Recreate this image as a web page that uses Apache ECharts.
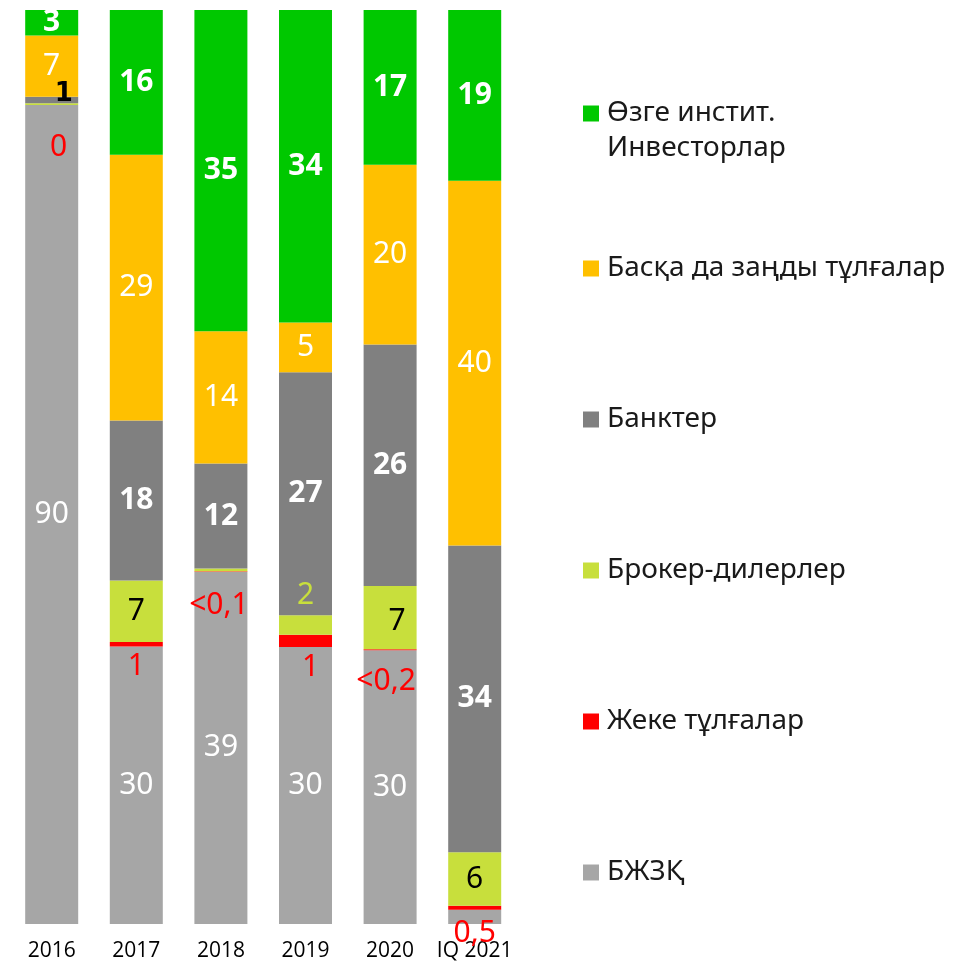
<!DOCTYPE html>
<html>
<head>
<meta charset="utf-8">
<script src="https://cdn.jsdelivr.net/npm/echarts@6/dist/echarts.min.js"></script>
<style>
html,body{margin:0;padding:0;background:#fff;}
#chart{width:967px;height:962px;}
</style>
</head>
<body>
<div id="chart"></div>
<script>
// ---- data ----
const categories = ['2016', '2017', '2018', '2019', '2020', 'IQ 2021'];

const seriesNames = ['БЖЗҚ', 'Жеке тұлғалар', 'Брокер-дилерлер', 'Банктер', 'Басқа да заңды тұлғалар', 'Өзге инстит. Инвесторлар'];

const pensionFund = [89.6, 30.35, 38.55, 30.3, 29.95, 1.56];
const individuals = [0, 0.5, 0.05, 1.36, 0.12, 0.44];
const brokers = [0.2, 6.74, 0.3, 2.11, 6.92, 5.84];
const banks = [0.7, 17.5, 11.48, 26.6, 26.4, 33.58];
const otherLegal = [6.7, 29.07, 14.46, 5.43, 19.67, 39.89];
const otherInst = [2.8, 15.85, 35.16, 34.2, 16.94, 18.69];

const pensionFundLabels = ['90', '30', '39', '30', '30', ''];
const individualsLabels = ['0', '1', '<0,1', '1', '<0,2', '0,5'];
const brokersLabels = ['', '7', '', '2', '7', '6'];
const banksLabels = ['1', '18', '12', '27', '26', '34'];
const otherLegalLabels = ['7', '29', '14', '5', '20', '40'];
const otherInstLabels = ['3', '16', '35', '34', '17', '19'];

// ---- styles ----
const FONT = '"Noto Sans", sans-serif';
const AXIS_FONT = '"Open Sans", "Noto Sans", sans-serif';
const colors = ['#A6A6A6', '#FF0000', '#C8DF3C', '#808080', '#FFC000', '#00C800'];

const baseLabel = { show: true, position: 'inside', fontFamily: FONT, fontSize: 30, color: '#fff' };

// per-point label style tweaks (positions of small segment labels)
const labelTweaks = {
  1: { // individuals
    0: { offset: [7, 22] },
    1: { offset: [0, 0] },
    2: { offset: [-2, 14] },
    3: { offset: [5, 0] },
    4: { offset: [-4, 11] },
    5: { offset: [0, 4] }
  },
  2: { // brokers
    3: { position: 'top', distance: 5, color: '#C8DF3C' },
    4: { offset: [7, 4] }
  },
  3: { // banks
    0: { color: '#000', fontFamily: '"DejaVu Sans", sans-serif', fontWeight: 'bold', fontSize: 26, offset: [12, -6] }
  }
};

const seriesValues = [pensionFund, individuals, brokers, banks, otherLegal, otherInst];
const seriesLabels = [pensionFundLabels, individualsLabels, brokersLabels, banksLabels, otherLegalLabels, otherInstLabels];
const seriesLabelStyle = [
  { fontWeight: 'normal', color: '#fff' },
  { position: 'bottom', distance: 5, color: '#FF0000', fontWeight: 'normal' },
  { color: '#000', fontWeight: 'normal' },
  { fontWeight: 'bold', color: '#fff' },
  { fontWeight: 'normal', color: '#fff' },
  { fontWeight: 'bold', color: '#fff' }
];

const series = seriesValues.map((vals, s) => ({
  name: seriesNames[s],
  type: 'bar',
  stack: 'total',
  barWidth: 53,
  itemStyle: { color: colors[s] },
  label: Object.assign({}, baseLabel, seriesLabelStyle[s], {
    formatter: (p) => seriesLabels[s][p.dataIndex]
  }),
  data: vals.map((v, i) => {
    const tw = labelTweaks[s] && labelTweaks[s][i];
    return tw ? { value: v, label: tw } : v;
  }),
  emphasis: { disabled: true }
}));

const legendOrder = [5, 4, 3, 2, 1, 0];
const legendData = legendOrder.map((s, k) => ({
  name: seriesNames[s],
  textStyle: k === 0 ? { lineHeight: 35 } : { lineHeight: 97 }
}));

const chart = echarts.init(document.getElementById('chart'), null, { renderer: 'canvas' });
chart.setOption({
  animation: false,
  backgroundColor: '#fff',
  color: colors,
  grid: { left: 9.4, right: 450, top: 10, bottom: 37, containLabel: false },
  xAxis: {
    type: 'category',
    data: categories,
    axisLine: { show: false },
    axisTick: { show: false },
    axisLabel: { interval: 0, hideOverlap: false, fontFamily: AXIS_FONT, fontSize: 21, color: '#000', margin: 17 }
  },
  yAxis: {
    type: 'value', min: 0, max: 100, show: false,
    splitLine: { show: false }
  },
  legend: {
    orient: 'vertical',
    left: 583,
    top: 61,
    padding: 0,
    itemWidth: 16,
    itemHeight: 16,
    itemGap: 54,
    icon: 'rect',
    data: legendData,
    formatter: (name) => name === seriesNames[5] ? '\nӨзге инстит.\nИнвесторлар' : name,
    textStyle: { fontFamily: FONT, fontSize: 28, color: '#1a1a1a', padding: [0, 0, 0, 3] }
  },
  series: series
});
</script>
</body>
</html>
